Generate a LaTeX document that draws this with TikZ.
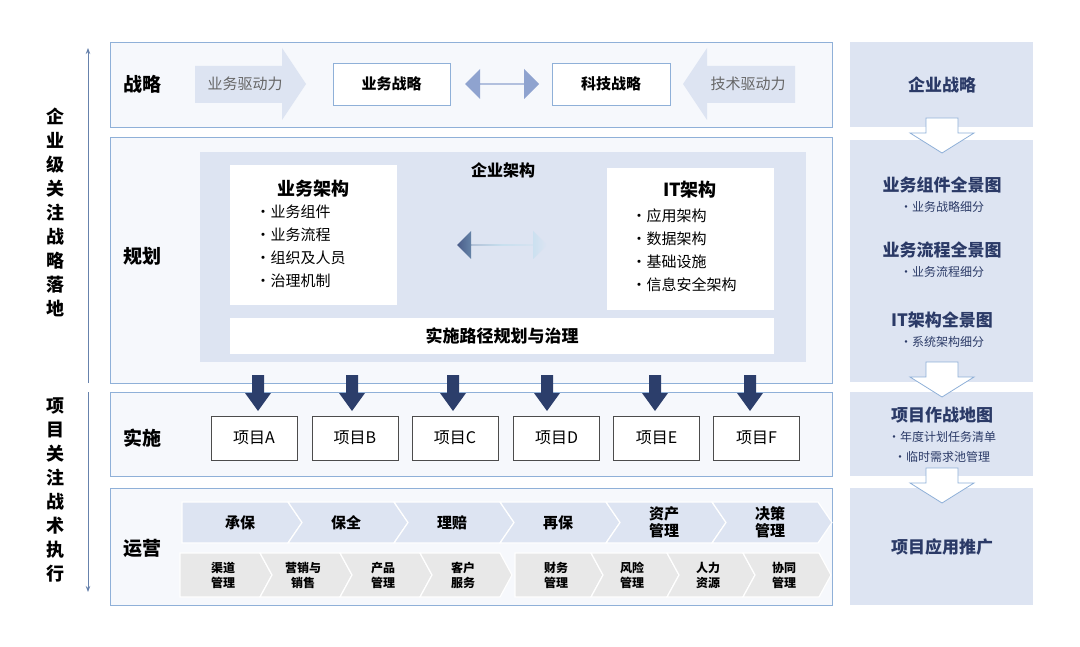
\documentclass[tikz,border=0pt]{standalone}
\usepackage{fontspec}
\setmainfont{Noto Sans CJK SC}
\usetikzlibrary{arrows.meta,shapes.arrows}
\definecolor{pb}{HTML}{8FB0D8}
\definecolor{pf}{HTML}{F6F8FC}
\definecolor{lb}{HTML}{DDE4F2}
\definecolor{mb}{HTML}{8FA3CF}
\definecolor{nv}{HTML}{2C3E6B}
\definecolor{gr}{HTML}{E8E8E8}
\definecolor{tx}{HTML}{2B3A67}
\tikzset{
 panel/.style={draw=pb,fill=pf,line width=0.8pt},
 wbox/.style={draw=pb,fill=white,line width=0.8pt,font=\bfseries\fontsize{15}{18}\selectfont},
 pbox/.style={draw=black!70,fill=white,line width=0.7pt,font=\fontsize{16}{19}\selectfont},
 lab/.style={font=\bfseries\fontsize{19}{22}\selectfont},
 rbox/.style={fill=lb},
 rt/.style={font=\bfseries\fontsize{17}{20}\selectfont,text=tx},
 rs/.style={font=\fontsize{12}{14}\selectfont,text=tx},
 down/.style={fill=nv},
 hollow/.style={draw=pb,fill=white,line width=0.8pt},
 chev/.style={fill=lb,draw=white,line width=1.2pt},
 chg/.style={fill=gr,draw=white,line width=1.2pt},
}
\begin{document}
\begin{tikzpicture}[x=1pt,y=-1pt]
\useasboundingbox (0,0) rectangle (1080,647);
% left axis
\draw[pb!60!nv,line width=0.8pt,-{Stealth[length=6pt]}] (88,383) -- (88,48);
\draw[pb!60!nv,line width=0.8pt,-{Stealth[length=6pt]}] (88,392) -- (88,592);
\node[font=\bfseries\fontsize{18}{24}\selectfont,align=center] (lv1) at (55,212) {企\\业\\级\\关\\注\\战\\略\\落\\地};
\node[font=\bfseries\fontsize{18}{24}\selectfont,align=center] (lv2) at (55,490) {项\\目\\关\\注\\战\\术\\执\\行};
% panels
\node[panel,minimum width=722pt,minimum height=85pt] (p1) at (471,84.5) {};
\node[panel,minimum width=722pt,minimum height=246pt] (p2) at (471,260) {};
\node[panel,minimum width=722pt,minimum height=84pt] (p3) at (471,434) {};
\node[panel,minimum width=722pt,minimum height=117pt] (p4) at (471,546.5) {};
\node[lab] (l1) at (142,84) {战略};
\node[lab] (l2) at (142,256) {规划};
\node[lab] (l3) at (142,438) {实施};
\node[lab] (l4) at (142,548) {运营};
% strategy row
\fill[lb] (195,66) -- (282,66) -- (282,48) -- (306,84) -- (282,120) -- (282,103) -- (195,103) -- cycle;
\node[font=\fontsize{15}{18}\selectfont,text=black!60] (d1) at (245,84) {业务驱动力};
\fill[lb] (795,66) -- (707,66) -- (707,48) -- (683,84) -- (707,120) -- (707,103) -- (795,103) -- cycle;
\node[font=\fontsize{15}{18}\selectfont,text=black!60] (d2) at (748,84) {技术驱动力};
\node[wbox,minimum width=117pt,minimum height=42pt] (bs) at (391.5,84) {业务战略};
\node[wbox,minimum width=118pt,minimum height=42pt] (ts) at (611,84) {科技战略};
\node[double arrow,fill=mb,minimum width=30pt,double arrow head extend=5pt,minimum height=74pt,inner sep=0pt] (da1) at (502,84) {};
% planning
\fill[lb] (200,152) rectangle (806,362);
\node[font=\bfseries\fontsize{16}{19}\selectfont] (ea) at (503,170) {企业架构};
\fill[white] (230,165) rectangle (397,305);
\fill[white] (607,168) rectangle (774,310);
\node[font=\bfseries\fontsize{18}{21}\selectfont] (ba) at (313,189) {业务架构};
\node[font=\fontsize{15}{23}\selectfont,align=left,anchor=north west] (bal) at (252,201) {·业务组件\\·业务流程\\·组织及人员\\·治理机制};
\node[font=\bfseries\fontsize{18}{21}\selectfont] (ita) at (690,190) {IT架构};
\node[font=\fontsize{15}{23}\selectfont,align=left,anchor=north west] (ital) at (628,205) {·应用架构\\·数据架构\\·基础设施\\·信息安全架构};
\node[double arrow,left color=nv!70!mb,right color=lb,middle color=mb!70!cyan!60,minimum width=28pt,double arrow head extend=6pt,minimum height=90pt,inner sep=0pt] (da2) at (502,245) {};
\node[fill=white,minimum width=544pt,minimum height=36pt,font=\bfseries\fontsize{17}{20}\selectfont] (road) at (502,336) {实施路径规划与治理};
% down arrows and projects
\foreach \x/\n/\c in {258/A/254, 352/B/355, 453/C/455, 547/D/556.5, 655/E/656.5, 750/F/756.5}{
 \fill[down] (\x-6,375) -- (\x+6,375) -- (\x+6,393) -- (\x+13,393) -- (\x,411) -- (\x-13,393) -- (\x-6,393) -- cycle;
 \node[pbox,minimum width=86pt,minimum height=44pt] (pj\n) at (\c,438) {项目\n};
}
% operations top chevrons
\foreach \i/\t in {0/承保,1/保全,2/理赔,3/再保,4/{资产\\管理},5/{决策\\管理}}{
 \pgfmathsetmacro{\a}{182+\i*106}
 \pgfmathsetmacro{\b}{\a+106}
 \ifnum\i=0
 \fill[chev] (\a,502) -- (\b,502) -- (\b+14,522.5) -- (\b,543) -- (\a,543) -- cycle;
 \else
 \fill[chev] (\a,502) -- (\b,502) -- (\b+14,522.5) -- (\b,543) -- (\a,543) -- (\a+14,522.5) -- cycle;
 \fi
 \node[font=\bfseries\fontsize{15}{17}\selectfont,align=center] (oc\i) at (\a+58,522.5) {\t};
}
\foreach \g/\s/\w/\ts in {0/180/80/{{渠道\\管理},{营销与\\销售},{产品\\管理},{客户\\服务}},1/515/76/{{财务\\管理},{风险\\管理},{人力\\资源},{协同\\管理}}}{
 \foreach \t [count=\k from 0] in \ts {
  \pgfmathsetmacro{\a}{\s+\k*\w}
  \pgfmathsetmacro{\b}{\a+\w}
  \ifnum\k=0
  \fill[chg] (\a,553) -- (\b,553) -- (\b+12,575) -- (\b,597) -- (\a,597) -- cycle;
  \else
  \fill[chg] (\a,553) -- (\b,553) -- (\b+12,575) -- (\b,597) -- (\a,597) -- (\a+12,575) -- cycle;
  \fi
  \node[font=\bfseries\fontsize{12}{15}\selectfont,align=center] (ob\g\k) at (\a+\w/2+3,575) {\t};
 }
}
% right column
\fill[rbox] (850,42) rectangle (1033,127);
\node[rt] (r1) at (942,85) {企业战略};
\fill[rbox] (850,140) rectangle (1033,382);
\node[rt] (r2a) at (942,185) {业务组件全景图};
\node[rs] (r2b) at (942,207) {·业务战略细分};
\node[rt] (r2c) at (942,250) {业务流程全景图};
\node[rs] (r2d) at (942,272) {·业务流程细分};
\node[rt] (r2e) at (942,320) {IT架构全景图};
\node[rs] (r2f) at (942,342) {·系统架构细分};
\fill[rbox] (850,392) rectangle (1033,476);
\node[rt] (r3) at (942,415) {项目作战地图};
\node[rs] (r3b) at (942,437) {·年度计划任务清单};
\node[rs] (r3c) at (942,457) {·临时需求池管理};
\fill[rbox] (850,488) rectangle (1033,605);
\node[rt] (r4) at (942,547) {项目应用推广};
\foreach \y in {118,362,468}{
 \draw[hollow] (926,\y) -- (958,\y) -- (958,\y+15) -- (974,\y+15) -- (942,\y+35) -- (910,\y+15) -- (926,\y+15) -- cycle;
}
\end{tikzpicture}
\end{document}
